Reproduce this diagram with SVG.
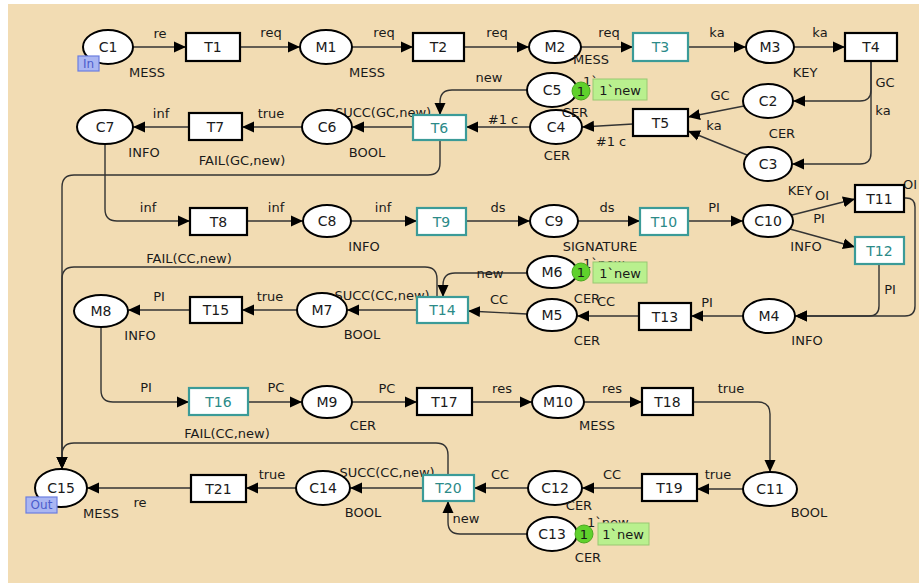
<svg xmlns="http://www.w3.org/2000/svg" width="919" height="583" viewBox="0 0 919 583">
<defs>
<marker id="ah" viewBox="0 0 12 12" refX="12" refY="6" markerWidth="12" markerHeight="12" markerUnits="userSpaceOnUse" orient="auto"><path d="M0,0.5 L12,6 L0,11.5 z" fill="#000"/></marker>
</defs>
<style>
text{font-family:"DejaVu Sans",Verdana,sans-serif;fill:#1a1a1a}
.pl ellipse{fill:#fff;stroke:#000;stroke-width:2}
.pl text.n,.tr text{font-size:14px;text-anchor:middle}
.tr rect{fill:#fff;stroke:#000;stroke-width:2.2}
.tl rect{stroke:#3b9b98}
.tr.tl text{fill:#2b8a88}
.lb,.ty{font-size:13px;text-anchor:middle}
#arcs path{fill:none;stroke:#333;stroke-width:1.4;marker-end:url(#ah)}
.tok{fill:#5fd12c;stroke:#4aa820;stroke-width:1}
.tokt{font-size:13px;text-anchor:middle;fill:#1a1a1a}
.mk{fill:#b9f08e;stroke:#98c872;stroke-width:1}
.mkt{font-size:13px;text-anchor:middle}
.hid{font-size:13px}
.port rect{fill:#aab6f2;stroke:#6b7ee0;stroke-width:1.2}
.port text{font-size:12px;fill:#4a5ccc;text-anchor:middle}
</style>
<rect x="0" y="0" width="919" height="583" fill="#fff"/>
<rect x="8" y="4" width="911" height="579" fill="#f2dcb3"/>

<g id="arcs">
<path d="M133,47 H186"/>
<path d="M240,47 H300"/>
<path d="M352,47 H413"/>
<path d="M464,47 H529"/>
<path d="M581,47 H633"/>
<path d="M688,47 H746"/>
<path d="M794,47 H845"/>
<path d="M871,61 V90 Q871,101 860,101 H793"/>
<path d="M871,61 V153 Q871,164 860,164 H792"/>
<path d="M744,106 L688,117"/>
<path d="M747,155 L688,131"/>
<path d="M633,124 L582,127"/>
<path d="M527,90 H452 Q440,90 440,102 V115"/>
<path d="M530,127 H466"/>
<path d="M413,127 H352"/>
<path d="M302,127 H242"/>
<path d="M189,127 H133"/>
<path d="M440,140 V163 Q440,175 428,175 H74 Q62,175 62,187 V469"/>
<path d="M105,144 V209 Q105,221 117,221 H190"/>
<path d="M247,221 H303"/>
<path d="M351,221 H417"/>
<path d="M466,221 H530"/>
<path d="M578,221 H640"/>
<path d="M688,221 H743"/>
<path d="M792,215 L855,199"/>
<path d="M790,229 L855,247"/>
<path d="M904,198 H906 Q915,198 915,207 V306 Q915,316 905,316 H795"/>
<path d="M879,264 V306 Q879,316 869,316 H795"/>
<path d="M743,316 H691"/>
<path d="M639,316 H577"/>
<path d="M527,314 L468,311"/>
<path d="M527,273 H455 Q443,273 443,285 V297"/>
<path d="M437,297 V279 Q437,267 425,267 H74 Q62,267 62,279 V469"/>
<path d="M417,310 H347"/>
<path d="M297,310 H242"/>
<path d="M190,310 H128"/>
<path d="M101,327 V390 Q101,402 113,402 H189"/>
<path d="M248,402 H302"/>
<path d="M352,402 H417"/>
<path d="M472,402 H532"/>
<path d="M584,402 H642"/>
<path d="M693,402 H758 Q770,402 770,414 V472"/>
<path d="M743,489 H697"/>
<path d="M642,488 H582"/>
<path d="M528,488 H474"/>
<path d="M448,475 V455 Q448,443 436,443 H74 Q62,443 62,455 V469"/>
<path d="M527,534 H460 Q448,534 448,522 V501"/>
<path d="M423,488 H350"/>
<path d="M296,488 H246"/>
<path d="M191,488 H87"/>
<text class="lb" x="160" y="38">re</text>
<text class="lb" x="271" y="37">req</text>
<text class="lb" x="384" y="37">req</text>
<text class="lb" x="497" y="37">req</text>
<text class="lb" x="609" y="37">req</text>
<text class="lb" x="717" y="37">ka</text>
<text class="lb" x="820" y="37">ka</text>
<text class="lb" x="885" y="87">GC</text>
<text class="lb" x="883" y="115">ka</text>
<text class="lb" x="720" y="100">GC</text>
<text class="lb" x="714" y="130">ka</text>
<text class="lb" x="489" y="82">new</text>
<text class="lb" x="503" y="124">#1 c</text>
<text class="lb" x="611" y="146">#1 c</text>
<text class="lb" x="383" y="117">SUCC(GC,new)</text>
<text class="lb" x="271" y="118">true</text>
<text class="lb" x="161" y="118">inf</text>
<text class="lb" x="242" y="165">FAIL(GC,new)</text>
<text class="lb" x="148" y="212">inf</text>
<text class="lb" x="276" y="212">inf</text>
<text class="lb" x="383" y="212">inf</text>
<text class="lb" x="498" y="212">ds</text>
<text class="lb" x="607" y="212">ds</text>
<text class="lb" x="714" y="212">PI</text>
<text class="lb" x="822" y="200">OI</text>
<text class="lb" x="819" y="223">PI</text>
<text class="lb" x="910" y="189">OI</text>
<text class="lb" x="890" y="294">PI</text>
<text class="lb" x="707" y="307">PI</text>
<text class="lb" x="606" y="306">CC</text>
<text class="lb" x="499" y="304">CC</text>
<text class="lb" x="490" y="278">new</text>
<text class="lb" x="189" y="263">FAIL(CC,new)</text>
<text class="lb" x="382" y="300">SUCC(CC,new)</text>
<text class="lb" x="270" y="301">true</text>
<text class="lb" x="159" y="301">PI</text>
<text class="lb" x="146" y="392">PI</text>
<text class="lb" x="276" y="392">PC</text>
<text class="lb" x="387" y="393">PC</text>
<text class="lb" x="502" y="393">res</text>
<text class="lb" x="612" y="393">res</text>
<text class="lb" x="731" y="393">true</text>
<text class="lb" x="718" y="479">true</text>
<text class="lb" x="612" y="479">CC</text>
<text class="lb" x="500" y="479">CC</text>
<text class="lb" x="227" y="438">FAIL(CC,new)</text>
<text class="lb" x="387" y="477">SUCC(CC,new)</text>
<text class="lb" x="466" y="523">new</text>
<text class="lb" x="272" y="479">true</text>
<text class="lb" x="140" y="507">re</text>
</g>

<g id="C1" class="pl"><ellipse cx="108" cy="47" rx="25" ry="17"/><text class="n" x="108" y="52">C1</text><text class="ty" x="147" y="77">MESS</text><g class="port"><rect x="78" y="56" width="21" height="15"/><text x="88.5" y="68">In</text></g></g>
<g id="M1" class="pl"><ellipse cx="326" cy="47" rx="26" ry="17"/><text class="n" x="326" y="52">M1</text><text class="ty" x="367" y="77">MESS</text></g>
<g id="M2" class="pl"><ellipse cx="555" cy="47" rx="26" ry="16"/><text class="n" x="555" y="52">M2</text><text class="ty" x="591" y="64">MESS</text></g>
<g id="M3" class="pl"><ellipse cx="770" cy="47" rx="24" ry="16"/><text class="n" x="770" y="52">M3</text><text class="ty" x="805" y="77">KEY</text></g>
<g id="C2" class="pl"><ellipse cx="768" cy="101" rx="25" ry="17"/><text class="n" x="768" y="106">C2</text><text class="ty" x="782" y="138">CER</text></g>
<g id="C3" class="pl"><ellipse cx="768" cy="164" rx="24" ry="17"/><text class="n" x="768" y="169">C3</text><text class="ty" x="800" y="195">KEY</text></g>
<g id="C4" class="pl"><ellipse cx="556" cy="127" rx="26" ry="17"/><text class="n" x="556" y="132">C4</text><text class="ty" x="557" y="160">CER</text></g>
<g id="C5" class="pl"><ellipse cx="552" cy="90" rx="25" ry="17"/><text class="n" x="552" y="95">C5</text><text class="ty" x="575" y="117">CER</text><text class="hid" x="583" y="86">1`new</text><circle class="tok" cx="581" cy="91" r="9"/><text class="tokt" x="581" y="96">1</text><rect class="mk" x="593" y="79" width="54" height="21"/><text class="mkt" x="620" y="95">1`new</text></g>
<g id="C6" class="pl"><ellipse cx="327" cy="127" rx="25" ry="17"/><text class="n" x="327" y="132">C6</text><text class="ty" x="367" y="157">BOOL</text></g>
<g id="C7" class="pl"><ellipse cx="105" cy="127" rx="28" ry="17"/><text class="n" x="105" y="132">C7</text><text class="ty" x="144" y="157">INFO</text></g>
<g id="C8" class="pl"><ellipse cx="327" cy="221" rx="24" ry="16"/><text class="n" x="327" y="226">C8</text><text class="ty" x="364" y="251">INFO</text></g>
<g id="C9" class="pl"><ellipse cx="554" cy="221" rx="24" ry="16"/><text class="n" x="554" y="226">C9</text><text class="ty" x="600" y="251">SIGNATURE</text></g>
<g id="C10" class="pl"><ellipse cx="768" cy="221" rx="25" ry="16"/><text class="n" x="768" y="226">C10</text><text class="ty" x="806" y="251">INFO</text></g>
<g id="M4" class="pl"><ellipse cx="769" cy="316" rx="26" ry="17"/><text class="n" x="769" y="321">M4</text><text class="ty" x="807" y="345">INFO</text></g>
<g id="M5" class="pl"><ellipse cx="552" cy="315" rx="25" ry="16"/><text class="n" x="552" y="320">M5</text><text class="ty" x="587" y="345">CER</text></g>
<g id="M6" class="pl"><ellipse cx="552" cy="272" rx="25" ry="16"/><text class="n" x="552" y="277">M6</text><text class="ty" x="587" y="303">CER</text><text class="hid" x="583" y="268">1`new</text><circle class="tok" cx="581" cy="272" r="9"/><text class="tokt" x="581" y="277">1</text><rect class="mk" x="593" y="262" width="54" height="21"/><text class="mkt" x="620" y="278">1`new</text></g>
<g id="M7" class="pl"><ellipse cx="322" cy="310" rx="25" ry="17"/><text class="n" x="322" y="315">M7</text><text class="ty" x="362" y="339">BOOL</text></g>
<g id="M8" class="pl"><ellipse cx="101" cy="311" rx="27" ry="16"/><text class="n" x="101" y="316">M8</text><text class="ty" x="140" y="340">INFO</text></g>
<g id="M9" class="pl"><ellipse cx="327" cy="402" rx="25" ry="16"/><text class="n" x="327" y="407">M9</text><text class="ty" x="363" y="430">CER</text></g>
<g id="M10" class="pl"><ellipse cx="558" cy="402" rx="26" ry="16"/><text class="n" x="558" y="407">M10</text><text class="ty" x="597" y="430">MESS</text></g>
<g id="C11" class="pl"><ellipse cx="770" cy="489" rx="27" ry="17"/><text class="n" x="770" y="494">C11</text><text class="ty" x="809" y="517">BOOL</text></g>
<g id="C12" class="pl"><ellipse cx="555" cy="488" rx="27" ry="17"/><text class="n" x="555" y="493">C12</text><text class="ty" x="579" y="510">CER</text></g>
<g id="C13" class="pl"><ellipse cx="552" cy="534" rx="25" ry="17"/><text class="n" x="552" y="539">C13</text><text class="ty" x="588" y="562">CER</text><text class="hid" x="587" y="527">1`new</text><circle class="tok" cx="584" cy="534" r="9"/><text class="tokt" x="584" y="539">1</text><rect class="mk" x="598" y="523" width="51" height="22"/><text class="mkt" x="623" y="539">1`new</text></g>
<g id="C14" class="pl"><ellipse cx="323" cy="488" rx="27" ry="17"/><text class="n" x="323" y="493">C14</text><text class="ty" x="363" y="517">BOOL</text></g>
<g id="C15" class="pl"><ellipse cx="61" cy="488" rx="26" ry="19"/><text class="n" x="61" y="493">C15</text><text class="ty" x="101" y="518">MESS</text><g class="port"><rect x="26" y="497" width="31" height="16"/><text x="41.5" y="509">Out</text></g></g>

<g id="T1" class="tr"><rect x="186" y="33" width="54" height="28"/><text x="213" y="52">T1</text></g>
<g id="T2" class="tr"><rect x="413" y="33" width="51" height="28"/><text x="438.5" y="52">T2</text></g>
<g id="T3" class="tr tl"><rect x="633" y="33" width="55" height="28"/><text x="660.5" y="52">T3</text></g>
<g id="T4" class="tr"><rect x="845" y="33" width="52" height="28"/><text x="871" y="52">T4</text></g>
<g id="T5" class="tr"><rect x="633" y="109" width="55" height="27"/><text x="660.5" y="127.5">T5</text></g>
<g id="T6" class="tr tl"><rect x="413" y="115" width="53" height="25"/><text x="439.5" y="132.5">T6</text></g>
<g id="T7" class="tr"><rect x="189" y="113" width="53" height="27"/><text x="215.5" y="131.5">T7</text></g>
<g id="T8" class="tr"><rect x="190" y="208" width="57" height="27"/><text x="218.5" y="226.5">T8</text></g>
<g id="T9" class="tr tl"><rect x="417" y="208" width="49" height="27"/><text x="441.5" y="226.5">T9</text></g>
<g id="T10" class="tr tl"><rect x="640" y="208" width="48" height="27"/><text x="664" y="226.5">T10</text></g>
<g id="T11" class="tr"><rect x="855" y="185" width="49" height="27"/><text x="879.5" y="203.5">T11</text></g>
<g id="T12" class="tr tl"><rect x="855" y="237" width="49" height="27"/><text x="879.5" y="255.5">T12</text></g>
<g id="T13" class="tr"><rect x="639" y="303" width="52" height="27"/><text x="665" y="321.5">T13</text></g>
<g id="T14" class="tr tl"><rect x="417" y="297" width="51" height="26"/><text x="442.5" y="315">T14</text></g>
<g id="T15" class="tr"><rect x="190" y="297" width="52" height="26"/><text x="216" y="315">T15</text></g>
<g id="T16" class="tr tl"><rect x="189" y="388" width="59" height="27"/><text x="218.5" y="406.5">T16</text></g>
<g id="T17" class="tr"><rect x="417" y="388" width="55" height="27"/><text x="444.5" y="406.5">T17</text></g>
<g id="T18" class="tr"><rect x="642" y="388" width="51" height="27"/><text x="667.5" y="406.5">T18</text></g>
<g id="T19" class="tr"><rect x="642" y="474" width="55" height="27"/><text x="669.5" y="492.5">T19</text></g>
<g id="T20" class="tr tl"><rect x="423" y="475" width="51" height="26"/><text x="448.5" y="493">T20</text></g>
<g id="T21" class="tr"><rect x="191" y="475" width="55" height="27"/><text x="218.5" y="493.5">T21</text></g>
</svg>
